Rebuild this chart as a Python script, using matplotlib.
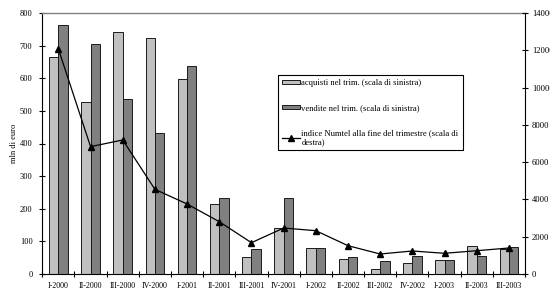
import matplotlib
matplotlib.use("Agg")
import matplotlib.pyplot as plt
import numpy as np

categories = ["I-2000", "II-2000", "III-2000", "IV-2000", "I-2001", "II-2001", "III-2001",
              "IV-2001", "I-2002", "II-2002", "III-2002", "IV-2002", "I-2003", "II-2003", "III-2003"]
acquisti = [666, 528, 742, 722, 597, 216, 53, 140, 79, 47, 16, 34, 43, 85, 78]
vendite = [762, 704, 535, 432, 639, 232, 78, 232, 80, 51, 39, 55, 43, 56, 84]
indice = [12070, 6830, 7190, 4540, 3755, 2805, 1680, 2467, 2323, 1518, 1073, 1234, 1110, 1250, 1395]

left_ticks = list(range(0, 801, 100))
right_ticks = list(range(0, 14001, 2000))

plt.rcParams['font.family'] = ['Liberation Serif', 'DejaVu Serif']
plt.rcParams['font.size'] = 6

fig = plt.figure(figsize=(5.5, 2.91), dpi=100)
ax = fig.add_axes([42.3/550, 1-274/291, (525-42.3)/550, (274-13)/291])
x = np.arange(len(categories))
w = 0.29
b1 = ax.bar(x - w/2, acquisti, width=w, color='#c0c0c0', edgecolor='#1a1a1a', linewidth=0.7,
            label='acquisti nel trim. (scala di sinistra)')
b2 = ax.bar(x + w/2, vendite, width=w, color='#808080', edgecolor='#1a1a1a', linewidth=0.7,
            label='vendite nel trim. (scala di sinistra)')
ax.set_xlim(-0.5, len(categories) - 0.5)
ax.set_ylim(0, 800)
ax.set_yticks(left_ticks)
ax.set_xticks(np.arange(len(categories) + 1) - 0.5)
ax.set_xticklabels([])
ax.set_xticks(x, minor=True)
ax.set_xticklabels(categories, minor=True, fontsize=5.8)
ax.tick_params(axis='x', which='major', direction='inout', length=5, width=0.8)
ax.tick_params(axis='x', which='minor', length=0, pad=6)
ax.tick_params(axis='y', direction='inout', length=5, width=0.8, pad=4.5, labelsize=6)
ax.spines['right'].set_visible(False)
ax.spines['top'].set_color('#808080')
ax.spines['top'].set_linewidth(1.0)
ax.set_ylabel('mln di euro', labelpad=1, fontsize=6)

ax2 = ax.twinx()
l, = ax2.plot(x, indice, color='black', marker='^', markersize=4, linewidth=0.9,
              label='indice Numtel alla fine del trimestre (scala di\ndestra)')
ax2.set_ylim(0, 14000)
ax2.set_yticks(right_ticks)
ax2.tick_params(axis='y', direction='inout', length=5, width=0.8, pad=2.5, labelsize=6.2)
ax2.spines['top'].set_visible(False)
ax2.spines['left'].set_visible(False)
ax2.spines['bottom'].set_visible(False)

leg = fig.legend(handles=[b1, b2, l], loc='upper left',
                 bbox_to_anchor=(278/550, 1-74.7/291), frameon=True, fancybox=False,
                 edgecolor='black', framealpha=1, handlelength=2.0, handleheight=0.45,
                 handletextpad=0.2, labelspacing=2.0, borderpad=0.5, borderaxespad=0,
                 prop={'size': 6.2})
leg.get_frame().set_linewidth(0.8)
for t in leg.get_texts():
    t.set_linespacing(1.1)

fig.savefig('out.png', dpi=100)
